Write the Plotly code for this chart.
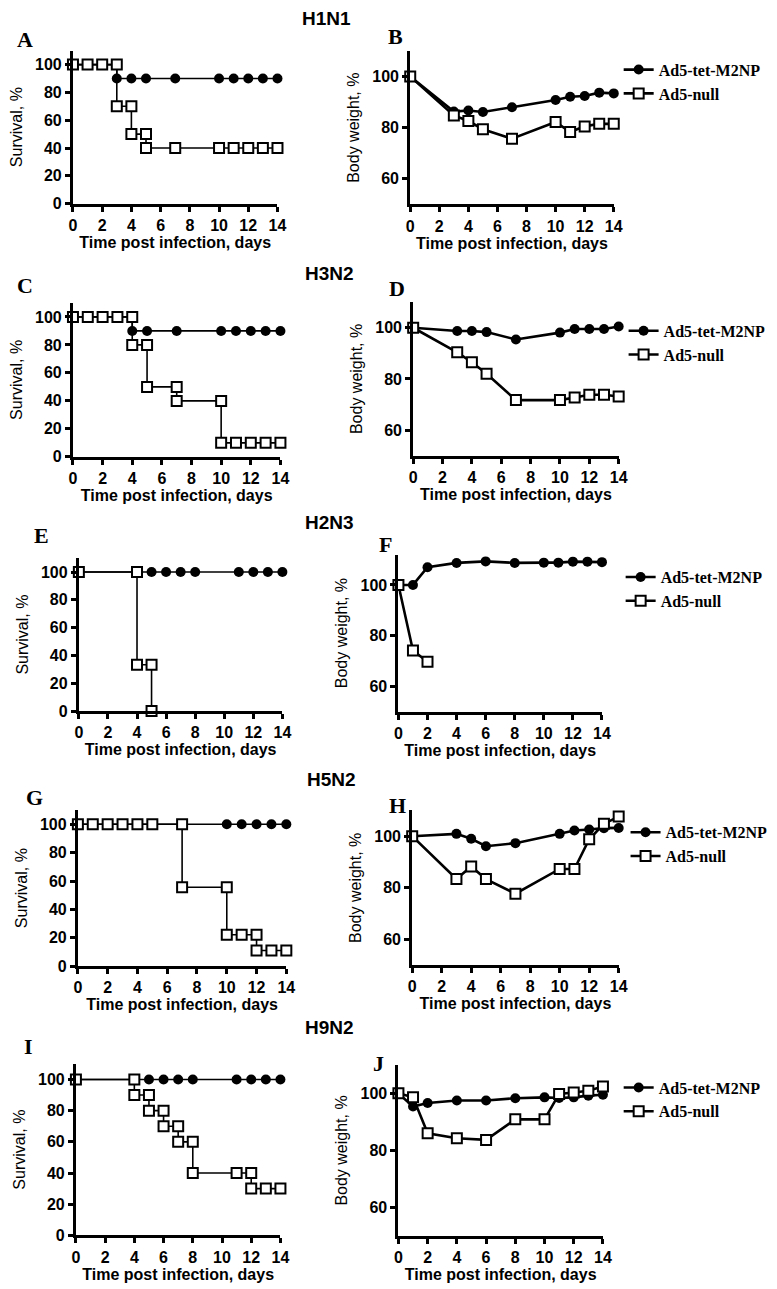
import plotly.graph_objects as go

W, H = 777, 1289

# ---------------- data ----------------
strains = ["H1N1", "H3N2", "H2N3", "H5N2", "H9N2"]
series_names = ["Ad5-tet-M2NP", "Ad5-null"]

# Survival (Kaplan-Meier style: repeated day = step drop)
surv_A_vac_days = [0, 1, 2, 3, 3, 4, 5, 7, 10, 11, 12, 13, 14]
surv_A_vac = [100, 100, 100, 100, 90, 90, 90, 90, 90, 90, 90, 90, 90]
surv_A_null_days = [0, 1, 2, 3, 3, 4, 4, 5, 5, 7, 10, 11, 12, 13, 14]
surv_A_null = [100, 100, 100, 100, 70, 70, 50, 50, 40, 40, 40, 40, 40, 40, 40]

surv_C_vac_days = [0, 1, 2, 3, 4, 4, 5, 7, 10, 11, 12, 13, 14]
surv_C_vac = [100, 100, 100, 100, 100, 90, 90, 90, 90, 90, 90, 90, 90]
surv_C_null_days = [0, 1, 2, 3, 4, 4, 5, 5, 7, 7, 10, 10, 11, 12, 13, 14]
surv_C_null = [100, 100, 100, 100, 100, 80, 80, 50, 50, 40, 40, 10, 10, 10, 10, 10]

surv_E_vac_days = [0, 4, 5, 6, 7, 8, 11, 12, 13, 14]
surv_E_vac = [100, 100, 100, 100, 100, 100, 100, 100, 100, 100]
surv_E_null_days = [0, 4, 4, 5, 5]
surv_E_null = [100, 100, 33.3, 33.3, 0]

surv_G_vac_days = [0, 1, 2, 3, 4, 5, 7, 10, 11, 12, 13, 14]
surv_G_vac = [100, 100, 100, 100, 100, 100, 100, 100, 100, 100, 100, 100]
surv_G_null_days = [0, 1, 2, 3, 4, 5, 7, 7, 10, 10, 11, 12, 12, 13, 14]
surv_G_null = [100, 100, 100, 100, 100, 100, 100, 55.6, 55.6, 22.2, 22.2, 22.2, 11.1, 11.1, 11.1]

surv_I_vac_days = [0, 4, 5, 6, 7, 8, 11, 12, 13, 14]
surv_I_vac = [100, 100, 100, 100, 100, 100, 100, 100, 100, 100]
surv_I_null_days = [0, 4, 4, 5, 5, 6, 6, 7, 7, 8, 8, 11, 12, 12, 13, 14]
surv_I_null = [100, 100, 90, 90, 80, 80, 70, 70, 60, 60, 40, 40, 40, 30, 30, 30]

# Body weight, %
bw_B_days = [0, 3, 4, 5, 7, 10, 11, 12, 13, 14]
bw_B_vac = [100, 86.3, 86.7, 86.1, 88.0, 90.8, 92.1, 92.4, 93.7, 93.4]
bw_B_null = [100, 84.8, 82.6, 79.4, 75.7, 82.2, 78.3, 80.5, 81.5, 81.5]

bw_D_days = [0, 3, 4, 5, 7, 10, 11, 12, 13, 14]
bw_D_vac = [100, 98.7, 98.7, 98.3, 95.4, 98.1, 99.5, 99.5, 99.5, 100.5]
bw_D_null = [100, 90.4, 86.5, 82.0, 71.7, 71.7, 72.7, 73.8, 73.8, 73.1]

bw_F_vac_days = [0, 1, 2, 4, 6, 8, 10, 11, 12, 13, 14]
bw_F_vac = [100, 100, 107.0, 108.7, 109.3, 108.7, 108.8, 108.8, 109.2, 109.2, 109.0]
bw_F_null_days = [0, 1, 2]
bw_F_null = [100, 74.1, 69.7]

bw_H_days = [0, 3, 4, 5, 7, 10, 11, 12, 13, 14]
bw_H_vac = [100, 100.9, 99.0, 96.1, 97.3, 100.9, 102.2, 102.6, 103.1, 103.2]
bw_H_null = [100, 83.4, 88.3, 83.4, 77.7, 87.3, 87.3, 98.8, 104.8, 107.6]

bw_J_days = [0, 1, 2, 4, 6, 8, 10, 11, 12, 13, 14]
bw_J_vac = [100, 95.4, 96.6, 97.5, 97.5, 98.3, 98.6, 98.4, 98.6, 99.2, 99.5]
bw_J_null = [100, 98.6, 86.0, 84.3, 83.7, 90.9, 90.9, 99.8, 100.3, 100.9, 102.4]

x_ticks = [0, 2, 4, 6, 8, 10, 12, 14]
surv_ticks = [0, 20, 40, 60, 80, 100]
bw_ticks = [60, 80, 100]

# ---------------- layout geometry (pixels) ----------------
# (x of day 0, x of day 14, y px of range bottom, y px of range top, range)
geom = {
    "A": (62, 270, 197, 43, [0, 110]),
    "B": (405, 612, 197.75, 43.25, [50, 110]),
    "C": (62, 273, 452, 297, [0, 110]),
    "D": (408, 617, 450.75, 296.25, [50, 110]),
    "E": (68, 275, 708, 554, [0, 110]),
    "F": (393, 600, 708.5, 550.4, [50, 112]),
    "G": (67, 279, 965, 807.7, [0, 110]),
    "H": (407, 617, 964, 808, [50, 110]),
    "I": (65, 273, 1236, 1063.3, [0, 110]),
    "J": (393, 601, 1236.75, 1064.25, [50, 110]),
}

panels = [
    ("A", "surv", surv_A_vac_days, surv_A_vac, surv_A_null_days, surv_A_null, None),
    ("B", "bw", bw_B_days, bw_B_vac, bw_B_days, bw_B_null, "legend"),
    ("C", "surv", surv_C_vac_days, surv_C_vac, surv_C_null_days, surv_C_null, None),
    ("D", "bw", bw_D_days, bw_D_vac, bw_D_days, bw_D_null, "legend2"),
    ("E", "surv", surv_E_vac_days, surv_E_vac, surv_E_null_days, surv_E_null, None),
    ("F", "bw", bw_F_vac_days, bw_F_vac, bw_F_null_days, bw_F_null, "legend3"),
    ("G", "surv", surv_G_vac_days, surv_G_vac, surv_G_null_days, surv_G_null, None),
    ("H", "bw", bw_H_days, bw_H_vac, bw_H_days, bw_H_null, "legend4"),
    ("I", "surv", surv_I_vac_days, surv_I_vac, surv_I_null_days, surv_I_null, None),
    ("J", "bw", bw_J_days, bw_J_vac, bw_J_days, bw_J_null, "legend5"),
]

SANS = "Liberation Sans, Arial, sans-serif"
SERIF = "Liberation Serif, Times New Roman, serif"

fig = go.Figure()
layout = {}

for i, (letter, kind, xv, yv, xn, yn, leg) in enumerate(panels):
    n = i + 1
    sfx = "" if n == 1 else str(n)
    x0, x14, ylo, yhi, yr = geom[letter]
    lw = 1.6 if kind == "surv" else 2.6
    show = leg is not None
    common = dict(xaxis="x" + sfx, yaxis="y" + sfx, mode="lines+markers", cliponaxis=False,
                  showlegend=show)
    if show:
        common["legend"] = leg
    fig.add_trace(go.Scatter(x=xv, y=yv, name=series_names[0],
                             line=dict(color="black", width=lw),
                             marker=dict(symbol="circle", size=10, color="black"),
                             **common))
    fig.add_trace(go.Scatter(x=xn, y=yn, name=series_names[1],
                             line=dict(color="black", width=lw),
                             marker=dict(symbol="square", size=10, color="white",
                                         line=dict(color="black", width=2)),
                             **common))
    axis_style = dict(showline=True, linecolor="black", linewidth=3, ticks="outside",
                      ticklen=5, tickwidth=2.5, tickcolor="black", showgrid=False,
                      zeroline=False,
                      tickfont=dict(family=SANS, size=16, color="black", weight="bold"))
    layout["xaxis" + sfx] = dict(
        domain=[x0 / W, x14 / W], range=[0, 14], tickvals=x_ticks, anchor="y" + sfx,
        title=dict(text="Time post infection, days", standoff=0,
                   font=dict(family=SANS, size=16, color="black", weight="bold")),
        **axis_style)
    layout["yaxis" + sfx] = dict(
        domain=[1 - ylo / H, 1 - yhi / H], range=yr, anchor="x" + sfx,
        tickvals=surv_ticks if kind == "surv" else bw_ticks,
        title=dict(text="Survival, %" if kind == "surv" else "Body weight, %", standoff=9,
                   font=dict(family=SANS, size=16, color="black")),
        **axis_style)

# legends for body weight panels
legend_pos = {"legend": (617, 45), "legend2": (622, 308), "legend3": (619, 556),
              "legend4": (624, 813), "legend5": (617, 1070)}
for key, (lx, ly) in legend_pos.items():
    layout[key] = dict(x=lx / W, y=1 - ly / H, xanchor="left", yanchor="top",
                       bgcolor="rgba(0,0,0,0)", itemwidth=30, tracegroupgap=0,
                       font=dict(family=SERIF, size=16, color="black", weight="bold"))

annotations = []
letters_pos = {"A": (3, 32), "B": (380, 29), "C": (3, 279), "D": (381, 282),
               "E": (20, 531), "F": (371, 540), "G": (12, 795), "H": (381, 803),
               "I": (10, 1046), "J": (365, 1063)}
for L, (lx, ly) in letters_pos.items():
    annotations.append(dict(text=L, x=lx / W, y=1 - ly / H, xref="paper", yref="paper",
                            xanchor="left", yanchor="middle", showarrow=False,
                            font=dict(family=SERIF, size=22, color="black", weight="bold")))
title_pos = [(320, 11), (323, 267), (323, 518), (325, 777), (323, 1027)]
for s, (tx, ty) in zip(strains, title_pos):
    annotations.append(dict(text=s, x=tx / W, y=1 - ty / H, xref="paper", yref="paper",
                            xanchor="center", yanchor="middle", showarrow=False,
                            font=dict(family=SANS, size=19, color="black", weight="bold")))

fig.update_layout(width=W, height=H, margin=dict(l=0, r=0, t=0, b=0),
                  paper_bgcolor="white", plot_bgcolor="white",
                  annotations=annotations, **layout)

fig.write_html("out.html")
